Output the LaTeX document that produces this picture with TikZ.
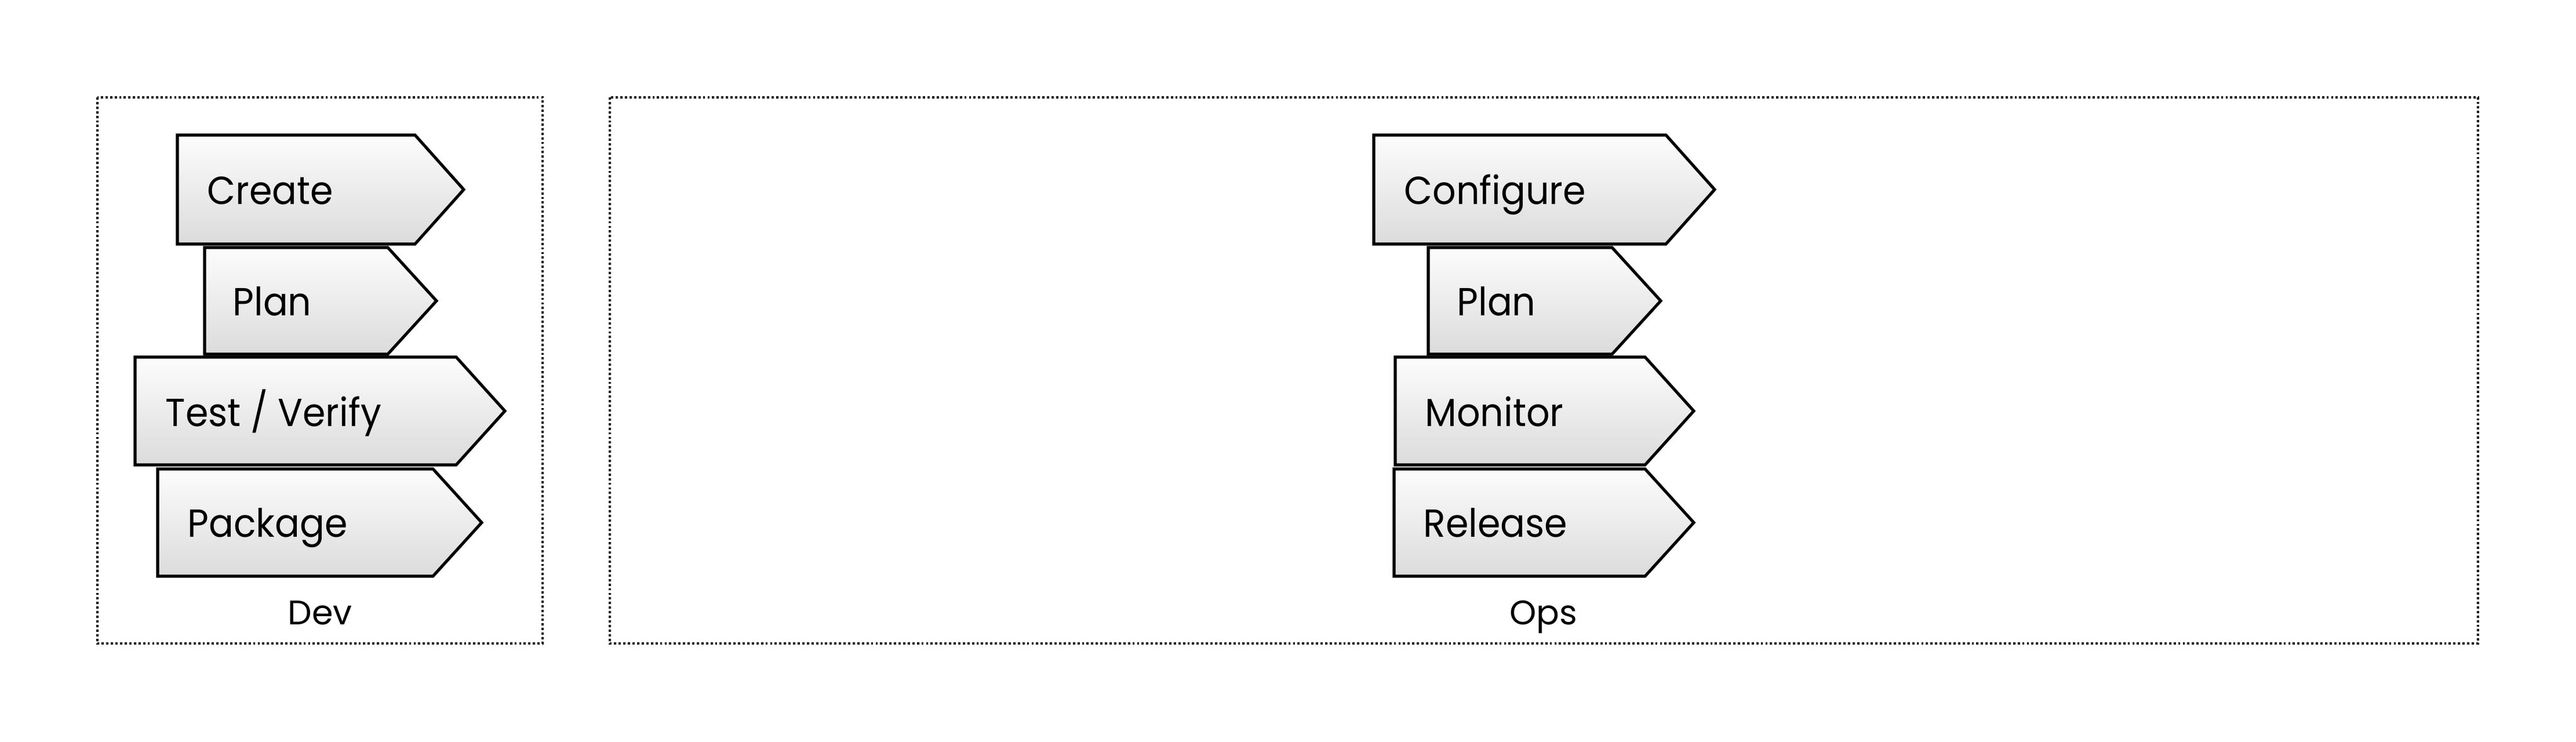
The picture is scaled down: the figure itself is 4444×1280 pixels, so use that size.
\documentclass[tikz,border=0pt]{standalone}
\usepackage{fontspec}
\setmainfont{Poppins}
\newfontfamily\signfont{Poppins}[FakeStretch=0.94]

\begin{document}
\begin{tikzpicture}[
  x = 0.01cm, y = -0.01cm,
  sign/.style = {draw,line width=1.45pt,line join=miter,top color=black!1,bottom color=black!14},
  signtext/.style = {anchor=base west,inner sep=0pt,font=\signfont\fontsize{19.2}{23}\selectfont},
  group/.style = {draw,line width=1.25pt,dash pattern=on 1.1pt off 1.15pt},
  grouptext/.style = {anchor=base,inner sep=0pt,font=\fontsize{16.7}{20}\selectfont}
  ]
  \useasboundingbox (0,0) rectangle (4444,1280);

  \draw[group] (168,168) rectangle (936,1110);
  \draw[group] (1052,168) rectangle (4275,1110);

  % Dev
  \draw[sign] (306,233) -- (716,233) -- (800,327) -- (716,421) -- (306,421) -- cycle;
  \draw[sign] (353,427) -- (669,427) -- (753,519) -- (669,611) -- (353,611) -- cycle;
  \draw[sign] (233,616) -- (787,616) -- (871,709) -- (787,802) -- (233,802) -- cycle;
  \draw[sign] (272,809) -- (747,809) -- (831,901.5) -- (747,994) -- (272,994) -- cycle;
  \node[signtext] (create) at (357,353) {Create};
  \node[signtext] (devplan) at (401,545) {Plan};
  \node[signtext] (test) at (285,736) {Test / Verify};
  \node[signtext] (package) at (323,927) {Package};
  \node[grouptext] (dev) at (552,1078) {Dev};

  % Ops
  \draw[sign] (2370,233) -- (2874,233) -- (2958,327) -- (2874,421) -- (2370,421) -- cycle;
  \draw[sign] (2464,427) -- (2781,427) -- (2865,519) -- (2781,611) -- (2464,611) -- cycle;
  \draw[sign] (2407,616) -- (2838,616) -- (2922,709) -- (2838,802) -- (2407,802) -- cycle;
  \draw[sign] (2405,809) -- (2838,809) -- (2922,901.5) -- (2838,994) -- (2405,994) -- cycle;
  \node[signtext] (configure) at (2422,353) {Configure};
  \node[signtext] (opsplan) at (2513,545) {Plan};
  \node[signtext] (monitor) at (2458,736) {Monitor};
  \node[signtext] (release) at (2455,927) {Release};
  \node[grouptext] (ops) at (2663,1078) {Ops};
\end{tikzpicture}
\end{document}
